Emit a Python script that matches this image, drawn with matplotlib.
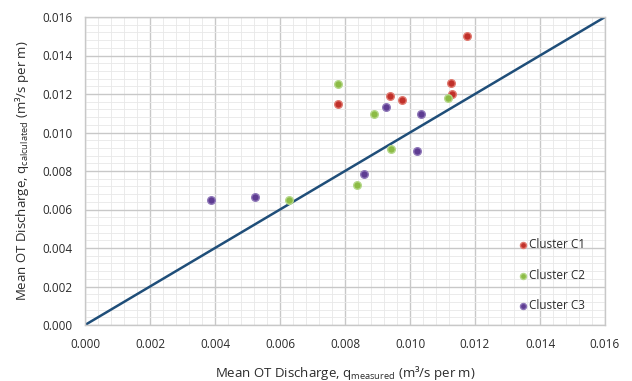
import matplotlib
matplotlib.use("Agg")
import matplotlib.pyplot as plt
from matplotlib.ticker import MultipleLocator, FormatStrFormatter

plt.rcParams['font.family'] = ['Open Sans', 'DejaVu Sans']
plt.rcParams['mathtext.fontset'] = 'custom'
plt.rcParams['mathtext.rm'] = 'Open Sans'
plt.rcParams['mathtext.it'] = 'Open Sans'

c1_x = [0.01175, 0.01127, 0.01130, 0.00778, 0.00939, 0.00976]
c1_y = [0.01501, 0.01257, 0.01200, 0.01148, 0.01188, 0.01169]
c2_x = [0.00778, 0.00888, 0.01116, 0.00941, 0.00838, 0.00629]
c2_y = [0.01250, 0.01096, 0.01181, 0.00914, 0.00727, 0.00649]
c3_x = [0.00925, 0.01034, 0.01022, 0.00858, 0.00387, 0.00523]
c3_y = [0.01134, 0.01096, 0.00904, 0.00784, 0.00649, 0.00663]
line_xy = [0.0, 0.016]
labels = ['Cluster C1', 'Cluster C2', 'Cluster C3']

W, H = 632, 381
fig = plt.figure(figsize=(W / 100, H / 100), dpi=100)
left, right, top, bottom = 85, 605, 17, 325
ax = fig.add_axes([left / W, 1 - bottom / H, (right - left) / W, (bottom - top) / H])

ax.set_xlim(0, 0.016)
ax.set_ylim(0, 0.016)
ax.xaxis.set_major_locator(MultipleLocator(0.002))
ax.yaxis.set_major_locator(MultipleLocator(0.002))
ax.xaxis.set_minor_locator(MultipleLocator(0.0004))
ax.yaxis.set_minor_locator(MultipleLocator(0.0004))
ax.xaxis.set_major_formatter(FormatStrFormatter('%.3f'))
ax.yaxis.set_major_formatter(FormatStrFormatter('%.3f'))
ax.grid(which='major', color='#c8c8c8', linewidth=1.0)
ax.grid(which='minor', color='#e8e8e8', linewidth=0.6)
ax.set_axisbelow(True)
ax.tick_params(which='both', length=0, labelsize=8.5, colors='#2b2b2b')
ax.tick_params(axis='x', pad=9)
ax.tick_params(axis='y', pad=9)
for s in ax.spines.values():
    s.set_color('#c8c8c8')
    s.set_linewidth(1.0)

ax.plot(line_xy, line_xy, color='#1f4e79', linewidth=1.8, zorder=2)

cols = ['#c0302a', '#8cbb45', '#5e3c92']
edges = ['#e07a70', '#b5d88a', '#8f78b8']
for (xs, ys, c, e, lab) in [(c1_x, c1_y, cols[0], edges[0], labels[0]),
                             (c2_x, c2_y, cols[1], edges[1], labels[1]),
                             (c3_x, c3_y, cols[2], edges[2], labels[2])]:
    ax.scatter(xs, ys, s=30, color=c, edgecolors=e, linewidths=1.0, zorder=3, label=lab)

leg = fig.legend(loc='upper left', bbox_to_anchor=(516 / W, 1 - 238 / H), frameon=False,
                 fontsize=8.5, handlelength=1.2, handletextpad=-0.1, labelspacing=1.5,
                 markerscale=0.8, borderaxespad=0, borderpad=0)
for t in leg.get_texts():
    t.set_color('#2b2b2b')

ax.set_xlabel('Mean OT Discharge, q$_{\\mathrm{measured}}$ (m³/s per m)',
              fontsize=9.5, color='#2b2b2b', labelpad=10)
ax.set_ylabel('Mean OT Discharge, q$_{\\mathrm{calculated}}$ (m³/s per m)',
              fontsize=9.5, color='#2b2b2b', labelpad=8)

fig.savefig('out.png', dpi=100)
